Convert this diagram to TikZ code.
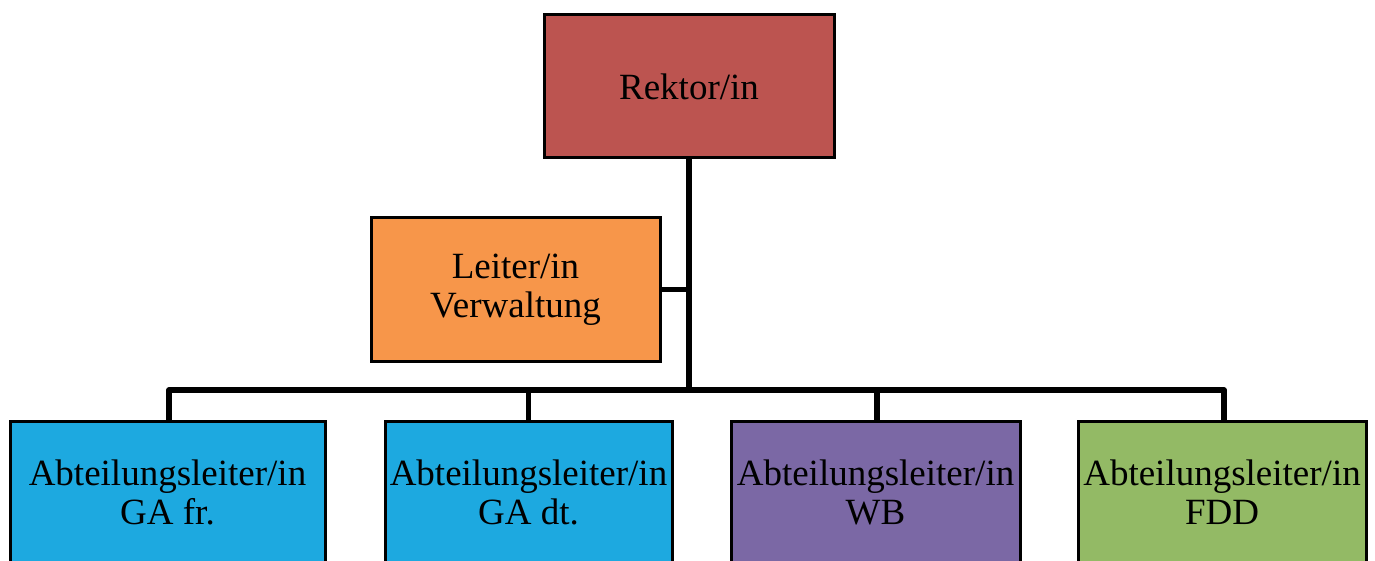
\documentclass[tikz,border=0pt]{standalone}
\usepackage{fontspec}
\setmainfont{Liberation Serif}
\definecolor{rektorc}{HTML}{BC5450}
\definecolor{leiterc}{HTML}{F7964A}
\definecolor{bluec}{HTML}{1DA9E0}
\definecolor{purplec}{HTML}{7B68A5}
\definecolor{greenc}{HTML}{93BA65}
\begin{document}
\begin{tikzpicture}[x=1pt,y=-1pt,
  box/.style={draw=black, line width=3pt, rectangle, align=center, inner sep=0pt,
    font=\fontsize{37}{39}\selectfont, minimum height=143pt},
  conn/.style={draw=black, line width=5.5pt, line join=round}]
\clip (0,0) rectangle (1375,561);
\useasboundingbox (0,0) rectangle (1375,561);
\node[box, fill=rektorc, minimum width=290pt] (rektor) at (689,86.5) {Rektor/in};
\node[box, fill=leiterc, minimum width=289pt] (leiter) at (515.5,289.5) {Leiter/in\\Verwaltung};
\node[box, fill=bluec, minimum width=315pt] (b1) at (167.5,492.5) {Abteilungsleiter/in\\GA fr.};
\node[box, fill=bluec, minimum width=287pt] (b2) at (528.5,492.5) {Abteilungsleiter/in\\GA dt.};
\node[box, fill=purplec, minimum width=289pt] (b3) at (875.5,492.5) {Abteilungsleiter/in\\WB};
\node[box, fill=greenc, minimum width=288pt] (b4) at (1222,492.5) {Abteilungsleiter/in\\FDD};
\coordinate (bus) at (689,390);
\draw[conn] (rektor.south) -- (bus);
\draw[conn] (leiter.east) -- (leiter.east -| bus);
\draw[conn] ([xshift=1.5pt]b1.north) -- ([xshift=1.5pt]b1.north |- bus) -- ([xshift=2pt]b4.north |- bus) -- ([xshift=2pt]b4.north);
\draw[conn] (b2.north) -- (b2.north |- bus);
\draw[conn] ([xshift=1.5pt]b3.north) -- ([xshift=1.5pt]b3.north |- bus);
\end{tikzpicture}
\end{document}
